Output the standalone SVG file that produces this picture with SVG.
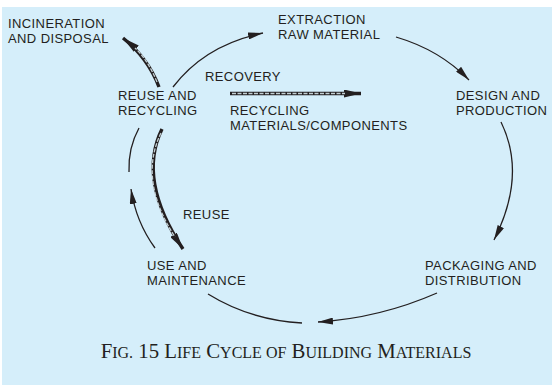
<svg xmlns="http://www.w3.org/2000/svg" width="552" height="385" viewBox="0 0 552 385">
<style>
.lbl{font-family:"Liberation Sans",Arial,sans-serif;font-size:13px;letter-spacing:0.4px;fill:#231f20}
.ln{fill:none;stroke:#231f20;stroke-width:1.3}
.hl{fill:none;stroke:#231f20;stroke-width:3.4}
.hd{fill:none;stroke:#c3cfd3;stroke-width:1.3;stroke-dasharray:4 1.5}
.cap{font-family:"Liberation Serif","Times New Roman",serif;fill:#231f20;font-size:20.8px}
.sc{font-size:16px}
</style>
<defs>
<marker id="ah" markerUnits="userSpaceOnUse" markerWidth="15" markerHeight="7" refX="15" refY="3.5" orient="auto">
<path d="M0,0 L15,3.5 L0,7 z" fill="#231f20"/>
</marker>
<marker id="ahb" markerUnits="userSpaceOnUse" markerWidth="17" markerHeight="8" refX="17" refY="4" orient="auto">
<path d="M0,0 L17,4 L0,8 z" fill="#231f20"/>
</marker>
</defs>
<rect x="2" y="7" width="550" height="378" fill="#d5eefa"/>
<g id="connectors">
<path class="hl" d="M159,87 Q148,58 123,38" marker-end="url(#ahb)"/>
<path class="hd" d="M157,82 Q148,60 135,48"/>
<path class="ln" d="M173,87 Q205,45 263,33" marker-end="url(#ah)"/>
<path class="ln" d="M396,37 Q440,50 469,80" marker-end="url(#ah)"/>
<path class="ln" d="M501,122 Q527,175 494,240" marker-end="url(#ah)"/>
<path class="ln" d="M437,293 Q380,318 318,322" marker-end="url(#ah)"/>
<path class="ln" d="M208,294 Q250,320 302,323"/>
<path class="ln" d="M155,248 Q136,222 131,189" marker-end="url(#ah)"/>
<path class="ln" d="M139,128 Q128,148 129,172"/>
<path class="hl" d="M162,129 Q137,180 183,249" marker-end="url(#ahb)"/>
<path class="hd" d="M161,133 Q138,180 175,237"/>
<path class="hl" d="M230,93.5 L361,93.5" marker-end="url(#ahb)"/>
<path class="hd" d="M232,93.5 L345,93.5"/>
</g>
<g id="edge-labels">
<text class="lbl" x="205" y="81">RECOVERY</text>
<text class="lbl" x="230" y="115">RECYCLING</text>
<text class="lbl" x="230" y="130">MATERIALS/COMPONENTS</text>
<text class="lbl" x="183" y="219">REUSE</text>
</g>
<g id="node-incineration">
<text class="lbl" x="8" y="27.5">INCINERATION</text>
<text class="lbl" x="8" y="42.5">AND DISPOSAL</text>
</g>
<g id="node-extraction">
<text class="lbl" x="278" y="23.5">EXTRACTION</text>
<text class="lbl" x="278" y="38.5">RAW MATERIAL</text>
</g>
<g id="node-reuse-recycling">
<text class="lbl" x="118" y="99.5">REUSE AND</text>
<text class="lbl" x="118" y="114.5">RECYCLING</text>
</g>
<g id="node-design">
<text class="lbl" x="456" y="99.5">DESIGN AND</text>
<text class="lbl" x="456" y="114.5">PRODUCTION</text>
</g>
<g id="node-packaging">
<text class="lbl" x="425" y="269.5">PACKAGING AND</text>
<text class="lbl" x="425" y="284.5">DISTRIBUTION</text>
</g>
<g id="node-use">
<text class="lbl" x="147" y="269.5">USE AND</text>
<text class="lbl" x="147" y="284.5">MAINTENANCE</text>
</g>
<text class="cap" x="286" y="358" text-anchor="middle">F<tspan class="sc">IG.</tspan> 15 L<tspan class="sc">IFE</tspan> C<tspan class="sc">YCLE OF</tspan> B<tspan class="sc">UILDING</tspan> M<tspan class="sc">ATERIALS</tspan></text>
</svg>
